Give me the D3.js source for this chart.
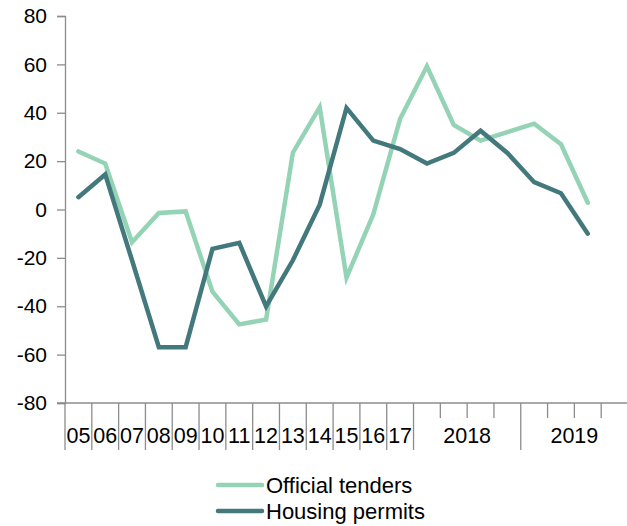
<!DOCTYPE html>
<html>
<head>
<meta charset="utf-8">
<script src="https://cdn.jsdelivr.net/npm/d3@7"></script>
<style>
  body { margin: 0; background: #fff; }
  text { font-family: "Liberation Sans", Arial, sans-serif; fill: #000; }
</style>
</head>
<body>
<svg id="chart" width="627" height="526"></svg>
<script>
// ---- data ----
const categories = ["05","06","07","08","09","10","11","12","13","14","15","16","17",
  "2018Q1","2018Q2","2018Q3","2018Q4","2019Q1","2019Q2","2019Q3","2019Q4"];
const groupLabels = ["05","06","07","08","09","10","11","12","13","14","15","16","17","2018","2019"];
const groupMembers = [["05"],["06"],["07"],["08"],["09"],["10"],["11"],["12"],["13"],["14"],["15"],["16"],["17"],
  ["2018Q1","2018Q2","2018Q3","2018Q4"],["2019Q1","2019Q2","2019Q3","2019Q4"]];
const officialTenders = [24, 19, -13.5, -1.4, -0.8, -34, -47.5, -45.5, 23.5, 42.3, -28.2, -2, 37.5,
  59.2, 35, 28.5, 32, 35.5, 27, 2.8];
const housingPermits = [5.1, 14.5, -21, -56.9, -56.9, -16.3, -13.8, -40.1, -21, 2, 42, 28.5, 25,
  19, 23.4, 32.6, 23.4, 11.3, 6.7, -10];
const yTicks = [-80, -60, -40, -20, 0, 20, 40, 60, 80];
const seriesNames = ["Official tenders", "Housing permits"];
const seriesColors = ["#94d3b5", "#43797c"];

// ---- layout ----
const svg = d3.select("#chart");
const plotLeft = 65, plotRight = 628, plotTop = 16, plotBottom = 403;
const x = d3.scaleBand().domain(categories).range([plotLeft, plotRight]).padding(0);
const y = d3.scaleLinear().domain([-80, 80]).range([plotBottom, plotTop]);
const axisColor = "#8c8c8c";

// y axis
const yAxis = svg.append("g").attr("transform", `translate(${plotLeft},0)`)
  .call(d3.axisLeft(y).tickValues(yTicks).tickSize(8).tickPadding(10).tickFormat(d => String(d)));
yAxis.select(".domain").attr("stroke", axisColor).attr("stroke-width", 1.3);
yAxis.selectAll(".tick line").attr("stroke", axisColor).attr("stroke-width", 1.3);
yAxis.selectAll(".tick text").style("font-size", "21px").attr("fill", "#000");

// x axis line
const xg = svg.append("g");
xg.append("line").attr("x1", plotLeft - 8).attr("x2", plotRight).attr("y1", plotBottom).attr("y2", plotBottom)
  .attr("stroke", axisColor).attr("stroke-width", 1.3);

// boundaries between categories
const boundaries = categories.map(c => x(c)).concat([plotRight]);
const groupStarts = new Set(groupMembers.map(g => g[0]));
boundaries.forEach((bx, i) => {
  const isLong = i === categories.length || groupStarts.has(categories[i]);
  xg.append("line").attr("x1", bx).attr("x2", bx)
    .attr("y1", plotBottom).attr("y2", isLong ? 450 : 418)
    .attr("stroke", axisColor).attr("stroke-width", 1.3);
});

// group labels
groupLabels.forEach((lab, i) => {
  const m = groupMembers[i];
  const x0 = x(m[0]), x1 = x(m[m.length - 1]) + x.bandwidth();
  xg.append("text").attr("x", (x0 + x1) / 2).attr("y", 443)
    .attr("text-anchor", "middle").style("font-size", "21.5px").text(lab);
});

// lines
const line = d3.line().x((d, i) => x(categories[i]) + x.bandwidth() / 2).y(d => y(d));
[officialTenders, housingPermits].forEach((vals, k) => {
  svg.append("path").datum(vals).attr("d", line)
    .attr("fill", "none").attr("stroke", seriesColors[k]).attr("stroke-width", 4.5)
    .attr("stroke-linejoin", "miter").attr("stroke-linecap", "round");
});

// legend
const legY = [485, 511];
seriesNames.forEach((name, k) => {
  const g = svg.append("g");
  g.append("line").attr("x1", 218).attr("x2", 262).attr("y1", legY[k]).attr("y2", legY[k])
    .attr("stroke", seriesColors[k]).attr("stroke-width", 4.5).attr("stroke-linecap", "round");
  g.append("text").attr("x", 266).attr("y", legY[k]).attr("dy", "0.35em")
    .style("font-size", "22px").text(name);
});
</script>
</body>
</html>
